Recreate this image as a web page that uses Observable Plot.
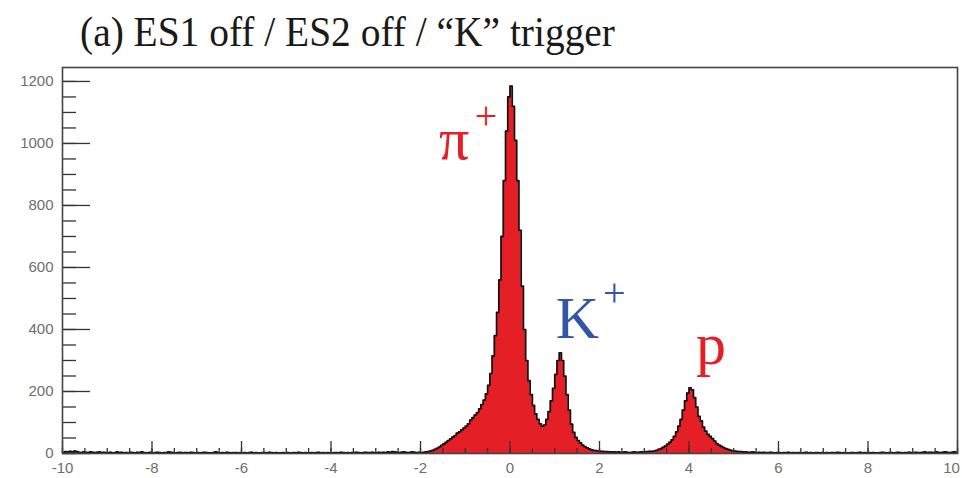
<!DOCTYPE html>
<html><head><meta charset="utf-8">
<script src="https://cdn.jsdelivr.net/npm/d3@7"></script>
<script src="https://cdn.jsdelivr.net/npm/@observablehq/plot@0.6"></script>
<style>
body{margin:0;background:#fff;width:962px;height:478px;overflow:hidden}
#title{position:relative;height:60px}
#title span{position:absolute;left:80px;top:11px;font-family:"Liberation Serif","DejaVu Serif","Times New Roman",serif;font-size:42px;line-height:1;color:#1a1a1a;white-space:nowrap;transform-origin:0 0}
</style></head><body>
<div id="title"><span id="tt">(a) ES1 off / ES2 off / “K” trigger</span></div>
<div id="chart"></div>
<script>
// Histogram range and counts per 0.05-wide bin
const xRange = [-10, 10];
const tailLeft = [ // -10 .. -2
  4,6,5,7,5,8,6,4,3,5,4,3,5,4,3,4,5,3,4,3,
  3,4,2,3,5,3,4,2,3,3,4,3,2,4,3,5,3,2,3,4,
  2,3,4,3,2,3,3,5,4,3,2,3,4,2,3,3,2,4,3,2,
  3,2,3,4,3,2,2,3,5,3,2,3,2,4,3,2,3,3,2,3,
  2,3,2,3,4,2,3,2,2,3,3,2,4,3,2,3,2,2,3,2,
  3,2,2,3,2,4,3,2,3,2,2,3,2,3,4,2,3,2,3,2,
  2,3,3,2,4,3,2,3,2,3,3,4,3,2,3,4,3,3,4,3,
  3,4,3,4,3,5,4,6,5,4,3,4,5,4,3,4,5,4,3,4];
const pion = [ // -2 .. 1
  3,4,5,6,8,10,13,17,21,26,31,36,42,47,53,58,66,70,76,82,
  88,96,108,116,124,132,144,158,172,192,220,258,315,380,455,560,700,880,1040,1150,
  1185,1120,1010,880,720,540,400,300,235,190,155,128,110,96,88,92,110,135,170,210];
const kaon = [ // 1 .. 3
  255,300,325,300,250,190,140,95,68,52,42,34,27,22,18,15,12,10,9,8,
  7,7,6,6,5,5,5,4,5,4,4,5,4,3,4,5,4,4,5,5];
const proton = [ // 3 .. 5
  6,6,7,7,8,10,13,16,20,24,30,36,44,55,70,88,110,140,170,195,
  212,205,180,150,120,105,85,72,62,55,48,40,32,27,23,19,16,13,11,9];
const tailRight = [ // 5 .. 10
  8,7,6,6,5,5,4,4,5,4,3,4,3,4,3,3,4,3,2,3,
  3,2,3,3,4,2,3,2,3,3,2,3,4,2,3,2,3,3,2,3,
  2,3,2,3,3,2,4,3,2,3,2,2,3,3,2,3,4,2,3,2,
  3,2,3,2,2,3,4,3,2,3,3,2,3,4,3,2,3,3,4,3,
  3,4,3,3,4,5,3,4,4,3,5,4,3,4,5,4,3,4,5,4];
const xTickLabels = [-10,-8,-6,-4,-2,0,2,4,6,8,10];
const yTickLabels = [0,200,400,600,800,1000,1200];
const peakPion = {x: 0.025, n: 1185};
const peakKaon = {x: 1.125, n: 325};
const peakProton = {x: 4.025, n: 212};

const counts = [...tailLeft, ...pion, ...kaon, ...proton, ...tailRight];
const bw = (xRange[1] - xRange[0]) / counts.length;
const steps = counts.map((n, i) => ({x: xRange[0] + i * bw, n}));
steps.push({x: xRange[1], n: counts[counts.length - 1]});
const xMinor = d3.range(0, 41).map(i => xRange[0] + i * 0.5);
const yMinor = d3.range(0, 25).map(i => i * 50);

const W = 962, H = 418, mL = 62, mR = 5, mT = 7, mB = 25;
const fw = W - mL - mR, fh = H - mT - mB;
const red = "#e41f26", blue = "#3454a4";
const serif = "Liberation Serif, DejaVu Serif, Times New Roman, serif";
const xInner = xTickLabels.slice(0, -1), xLast = xTickLabels.slice(-1);

const chart = Plot.plot({
  width: W, height: H,
  marginLeft: mL, marginRight: mR, marginTop: mT, marginBottom: mB,
  style: {fontFamily: "Liberation Sans", fontSize: "15px", color: "#6e6e6e", background: "white", overflow: "visible"},
  x: {domain: xRange, label: null},
  y: {domain: [0, 1245], label: null},
  marks: [
    Plot.areaY(steps, {x: "x", y: "n", curve: "step-after", fill: red}),
    Plot.lineY(steps, {x: "x", y: "n", curve: "step-after", stroke: "#111", strokeWidth: 1.7}),
    Plot.tickY(yMinor, {y: d => d, stroke: "#333", strokeWidth: 1.3, insetRight: fw - 14}),
    Plot.tickY(yTickLabels, {y: d => d, stroke: "#333", strokeWidth: 1.3, insetRight: fw - 28}),
    Plot.tickX(xMinor, {x: d => d, stroke: "#333", strokeWidth: 1.3, insetTop: fh - 5}),
    Plot.tickX(xTickLabels, {x: d => d, stroke: "#333", strokeWidth: 1.3, insetTop: fh - 12}),
    Plot.frame({stroke: "#444", strokeWidth: 1.6}),
    Plot.axisY(yTickLabels, {tickSize: 0, tickPadding: 9, label: null, tickFormat: d => String(d)}),
    Plot.axisX(xInner, {tickSize: 0, tickPadding: 9, label: null, tickFormat: d => String(d)}),
    Plot.axisX(xLast, {tickSize: 0, tickPadding: 9, label: null, dx: -6, tickFormat: d => String(d)}),
    Plot.text([peakPion], {x: "x", y: "n", text: () => "π", dx: -57, dy: 54, fontSize: 60, fontFamily: serif, fill: red}),
    Plot.text([peakPion], {x: "x", y: "n", text: () => "+", dx: -25, dy: 30, fontSize: 40, fontFamily: serif, fill: red}),
    Plot.text([peakKaon], {x: "x", y: "n", text: () => "K", dx: 17, dy: -34, fontSize: 60, fontFamily: serif, fill: blue}),
    Plot.text([peakKaon], {x: "x", y: "n", text: () => "+", dx: 54, dy: -60, fontSize: 40, fontFamily: serif, fill: blue}),
    Plot.text([peakProton], {x: "x", y: "n", text: () => "p", dx: 21, dy: -43, fontSize: 60, fontFamily: serif, fill: red})
  ]
});
document.getElementById("chart").append(chart);
// fit title to the reference width
const tt = document.getElementById("tt");
const w = tt.getBoundingClientRect().width;
tt.style.transform = `scaleX(${535 / w})`;
</script>
</body></html>
